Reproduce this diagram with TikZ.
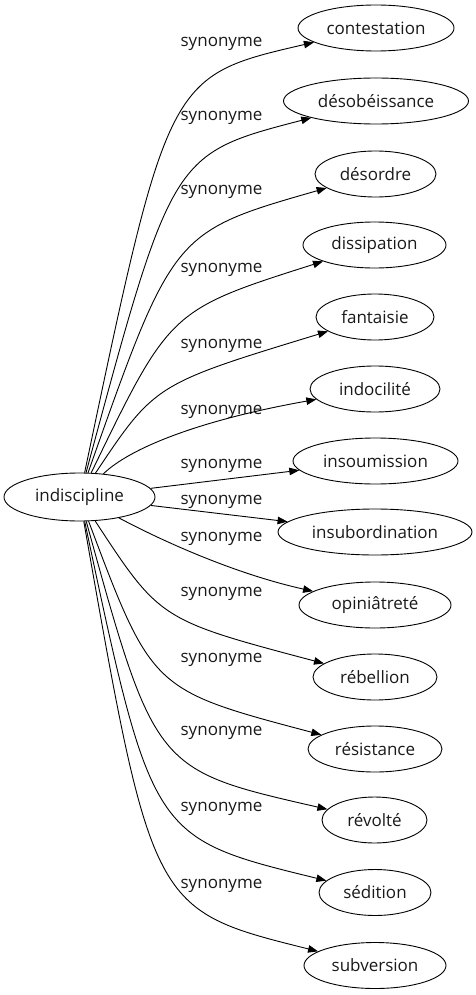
\documentclass[tikz,border=0pt]{standalone}
\usepackage{fontspec}
\setmainfont{Open Sans}
\usetikzlibrary{arrows.meta,shapes.geometric}
\begin{document}
\begin{tikzpicture}[x=1pt,y=-1pt,
  word/.style={ellipse,draw,line width=0.9pt,inner sep=0pt,minimum height=46pt,text=black!90,
    font=\fontsize{17}{20}\selectfont},
  rel/.style={text=black!90,font=\fontsize{17}{20}\selectfont,anchor=mid,inner sep=0pt},
  link/.style={line width=0.9pt,-{Triangle[length=10pt,width=7.5pt]}}]
\useasboundingbox (0,0) rectangle (476,995);
\node[word,minimum width=151pt,minimum height=48pt] (ind) at (79.5,497) {indiscipline};
\node[word,minimum width=156pt] (n1) at (376,28) {contestation};
\node[word,minimum width=185pt] (n2) at (376,101) {désobéissance};
\node[word,minimum width=121pt] (n3) at (375.5,174) {désordre};
\node[word,minimum width=143pt] (n4) at (374.5,245) {dissipation};
\node[word,minimum width=118pt] (n5) at (375,317) {fantaisie};
\node[word,minimum width=130pt] (n6) at (375,389) {indocilité};
\node[word,minimum width=165pt] (n7) at (375.5,461) {insoumission};
\node[word,minimum width=194pt] (n8) at (375,532) {insubordination};
\node[word,minimum width=152pt] (n9) at (375,605) {opiniâtreté};
\node[word,minimum width=124pt] (n10) at (375,677) {rébellion};
\node[word,minimum width=134pt] (n11) at (375,749) {résistance};
\node[word,minimum width=105pt] (n12) at (374.5,820) {révolté};
\node[word,minimum width=112pt] (n13) at (375,892.5) {sédition};
\node[word,minimum width=142pt] (n14) at (375,965.5) {subversion};
\foreach \i/\y in {1/44,2/118,3/192,4/270,5/346,6/412,7/466,8/502,9/539,10/594,11/660,12/733,13/809,14/886}
  \node[rel] (l\i) at (221.5,\y) {synonyme};
\draw[link] (ind) .. controls (168,76) .. (n1);
\draw[link] (ind) .. controls (172,154) .. (n2);
\draw[link] (ind) .. controls (173,232) .. (n3);
\draw[link] (ind) .. controls (170,310) .. (n4);
\draw[link] (ind) .. controls (155,384) .. (n5);
\draw[link] (ind) .. controls (130,448) and (200,420) .. (n6);
\draw[link] (ind) -- (n7);
\draw[link] (ind) -- (n8);
\draw[link] (ind) .. controls (170,545) and (240,575) .. (n9);
\draw[link] (ind) .. controls (160,620) .. (n10);
\draw[link] (ind) .. controls (152,690) .. (n11);
\draw[link] (ind) .. controls (155,770) .. (n12);
\draw[link] (ind) .. controls (152,838) .. (n13);
\draw[link] (ind) .. controls (152,910) .. (n14);
\end{tikzpicture}
\end{document}
